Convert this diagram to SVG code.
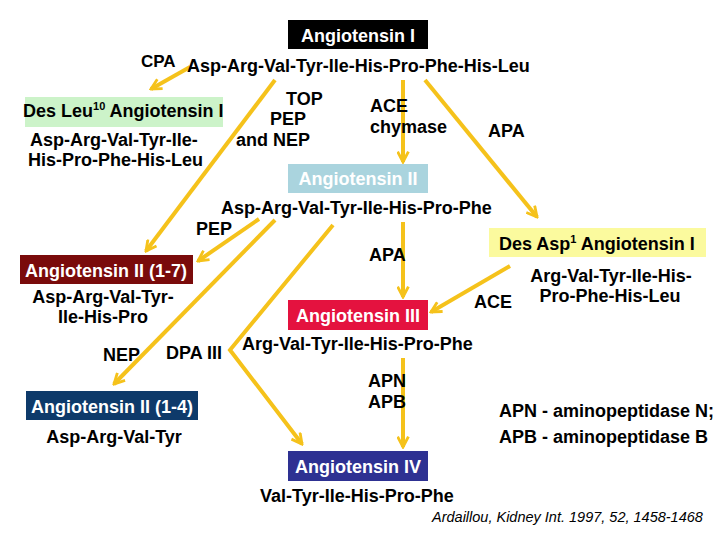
<svg xmlns="http://www.w3.org/2000/svg" width="720" height="540" viewBox="0 0 720 540">
<style>
text{font-family:"Liberation Sans",Arial,sans-serif;font-weight:bold;font-size:18px;fill:#000}
.w{fill:#fff}
.c{text-anchor:middle}
.cit{font-weight:normal;font-style:italic;font-size:14.5px}
.sup{font-size:11px}
.ln{fill:none;stroke:#F5C21B;stroke-width:4;marker-end:url(#ah)}
</style>
<defs>
<marker id="ah" viewBox="0 0 12 12" refX="10.5" refY="6" markerWidth="13" markerHeight="13" markerUnits="userSpaceOnUse" orient="auto">
<path d="M1,1 L10.5,6 L1,11" fill="none" stroke="#F5C21B" stroke-width="2.6"/>
</marker>
</defs>
<rect width="720" height="540" fill="#fff"/>
<g id="connectors">
<line class="ln" x1="190" y1="67" x2="151" y2="89"/>
<line class="ln" x1="275" y1="80" x2="146" y2="251"/>
<line class="ln" x1="403" y1="80" x2="403" y2="162"/>
<line class="ln" x1="425" y1="80" x2="537" y2="217"/>
<line class="ln" x1="259" y1="219" x2="198" y2="261"/>
<line class="ln" x1="275" y1="220" x2="114" y2="384"/>
<polyline class="ln" points="333,225 230,350 302,444"/>
<line class="ln" x1="403" y1="222" x2="403" y2="297"/>
<line class="ln" x1="510" y1="266" x2="431" y2="312"/>
<line class="ln" x1="403" y1="358" x2="403" y2="447"/>
</g>
<g id="angI">
<rect x="288" y="20" width="140" height="29" fill="#000"/>
<text class="w c" x="358" y="42">Angiotensin I</text>
<text x="187" y="72">Asp-Arg-Val-Tyr-Ile-His-Pro-Phe-His-Leu</text>
</g>
<g id="cpa"><text x="141" y="67" style="font-size:17px">CPA</text></g>
<g id="desLeu">
<rect x="25" y="97" width="198" height="30" fill="#CCF3C9"/>
<text x="23" y="117">Des Leu<tspan class="sup" dy="-7">10</tspan><tspan dy="7"> Angiotensin I</tspan></text>
<text x="30" y="146">Asp-Arg-Val-Tyr-Ile-</text>
<text x="28" y="166">His-Pro-Phe-His-Leu</text>
</g>
<g id="topLabel">
<text x="286" y="105">TOP</text>
<text x="270" y="125">PEP</text>
<text x="236" y="146">and NEP</text>
</g>
<g id="aceChy">
<text x="370" y="112">ACE</text>
<text x="370" y="133">chymase</text>
</g>
<g id="apa1"><text x="488" y="137">APA</text></g>
<g id="angII">
<rect x="288" y="164" width="140" height="29" fill="#AAD4DE"/>
<text class="w c" x="358" y="185">Angiotensin II</text>
<text x="221" y="214">Asp-Arg-Val-Tyr-Ile-His-Pro-Phe</text>
</g>
<g id="pep2"><text x="196" y="235">PEP</text></g>
<g id="desAsp">
<rect x="489" y="228" width="217" height="29" fill="#FBFA9E"/>
<text x="499" y="250">Des Asp<tspan class="sup" dy="-7">1</tspan><tspan dy="7"> Angiotensin I</tspan></text>
<text class="c" x="611" y="282">Arg-Val-Tyr-Ile-His-</text>
<text class="c" x="610" y="302">Pro-Phe-His-Leu</text>
</g>
<g id="apa2"><text x="369" y="261">APA</text></g>
<g id="ace2"><text x="474" y="308">ACE</text></g>
<g id="ang17">
<rect x="20" y="255" width="173" height="29" fill="#7A0B0B"/>
<text class="w c" x="106" y="277">Angiotensin II (1-7)</text>
<text class="c" x="103" y="303">Asp-Arg-Val-Tyr-</text>
<text class="c" x="103" y="323">Ile-His-Pro</text>
</g>
<g id="nep"><text x="103" y="361">NEP</text></g>
<g id="dpa"><text x="166" y="359">DPA III</text></g>
<g id="angIII">
<rect x="288" y="300" width="140" height="30" fill="#E4123F"/>
<text class="w c" x="358" y="322">Angiotensin III</text>
<text x="242" y="350">Arg-Val-Tyr-Ile-His-Pro-Phe</text>
</g>
<g id="ang14">
<rect x="26" y="391" width="172" height="29" fill="#0E3A6A"/>
<text class="w c" x="112" y="413">Angiotensin II (1-4)</text>
<text class="c" x="114" y="443">Asp-Arg-Val-Tyr</text>
</g>
<g id="apnapb">
<text x="368" y="387">APN</text>
<text x="368" y="408">APB</text>
</g>
<g id="legend">
<text x="499" y="417">APN - aminopeptidase N;</text>
<text x="499" y="443">APB - aminopeptidase B</text>
</g>
<g id="angIV">
<rect x="288" y="451" width="140" height="30" fill="#2E3192"/>
<text class="w c" x="358" y="473">Angiotensin IV</text>
<text x="260" y="502">Val-Tyr-Ile-His-Pro-Phe</text>
</g>
<g id="citation"><text class="cit" x="432" y="522">Ardaillou, Kidney Int. 1997, 52, 1458-1468</text></g>
</svg>
